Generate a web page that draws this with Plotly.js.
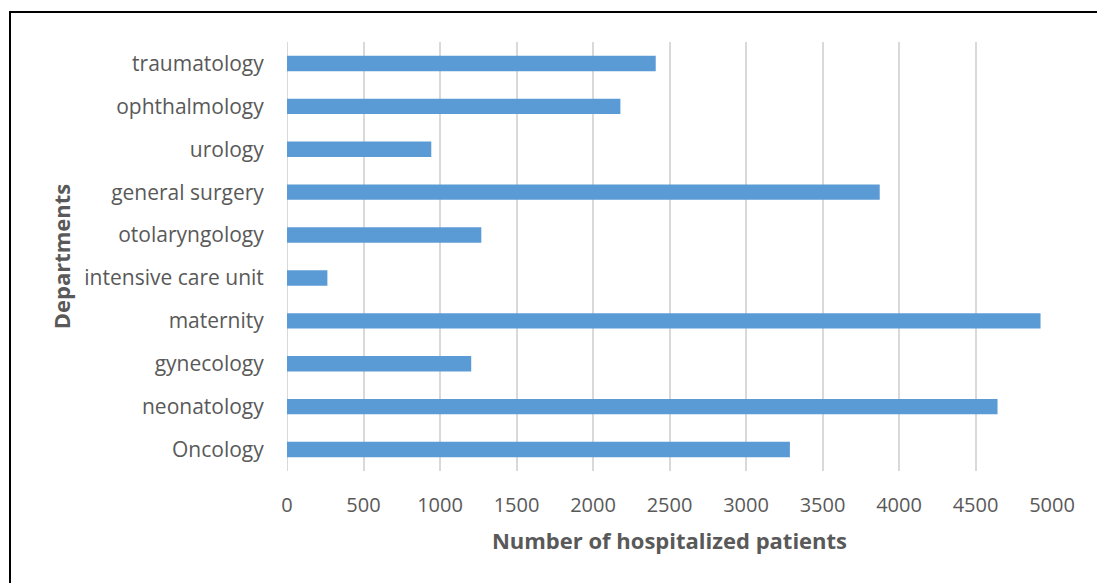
<!DOCTYPE html>
<html>
<head>
<meta charset="utf-8">
<script src="https://cdn.plot.ly/plotly-3.0.1.min.js"></script>
<style>
  html, body { margin: 0; padding: 0; background: #fff; }
  #chart { width: 1097px; height: 583px; }
  #frame { position: absolute; left: 9px; top: 11px; width: 1200px; height: 700px;
           border: 2px solid #000; pointer-events: none; }
</style>
</head>
<body>
<div id="chart"></div>
<div id="frame"></div>
<script>
// Departments, listed bottom to top
const departments = [
  "Oncology", "neonatology", "gynecology", "maternity", "intensive care unit",
  "otolaryngology", "general surgery", "urology", "ophthalmology", "traumatology"
];
// Hospitalized patients per department
const patients = [3287, 4644, 1204, 4925, 264, 1270, 3874, 943, 2179, 2410];
// X axis ticks
const xTicks = [0, 500, 1000, 1500, 2000, 2500, 3000, 3500, 4000, 4500, 5000];

const font = "'Open Sans', sans-serif";

Plotly.newPlot("chart", [{
  type: "bar",
  orientation: "h",
  y: departments,
  x: patients,
  width: 0.36,
  marker: { color: "#5b9bd5" },
  hoverinfo: "x+y"
}], {
  width: 1097,
  height: 583,
  margin: { l: 286.5, r: 45, t: 42, b: 112 },
  paper_bgcolor: "#fff",
  plot_bgcolor: "#fff",
  showlegend: false,
  font: { family: font, color: "#595959" },
  xaxis: {
    range: [0, 5000],
    tickvals: xTicks,
    ticktext: xTicks.map(String),
    showgrid: true,
    gridcolor: "#d9d9d9",
    gridwidth: 2,
    zeroline: false,
    showline: false,
    ticks: "outside",
    ticklen: 16,
    tickcolor: "rgba(0,0,0,0)",
    tickfont: { size: 20, color: "#595959", family: font },
    title: { text: "<b>Number of hospitalized patients</b>", standoff: 16,
             font: { size: 22, color: "#595959", family: font } },
    fixedrange: true
  },
  yaxis: {
    type: "category",
    range: [-0.5, 9.5],
    showgrid: false,
    zeroline: false,
    showline: false,
    ticks: "outside",
    ticklen: 18,
    tickcolor: "rgba(0,0,0,0)",
    tickfont: { size: 21, color: "#595959", family: font },
    title: { text: "<b>Departments</b>", standoff: 7,
             font: { size: 22, color: "#595959", family: font } },
    fixedrange: true
  },
  shapes: [{
    type: "line", xref: "x", yref: "paper",
    x0: 0, x1: 0, y0: 0, y1: 1,
    line: { color: "#d9d9d9", width: 2 }, layer: "below"
  }]
}, { displayModeBar: false, staticPlot: true });
</script>
</body>
</html>
